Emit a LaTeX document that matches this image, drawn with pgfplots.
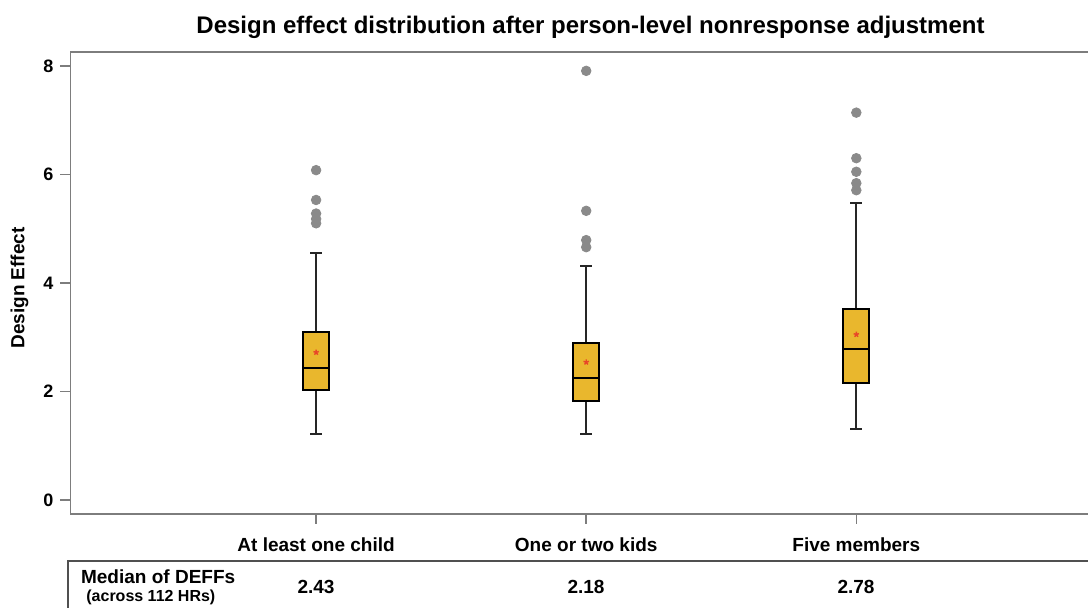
\documentclass[border=0pt]{standalone}
\usepackage{fontspec}
\setmainfont{Liberation Sans}
\usepackage{pgfplots}
\pgfplotsset{compat=1.18}
\usepgfplotslibrary{statistics}
\definecolor{boxgold}{RGB}{233,183,45}
\definecolor{frameg}{RGB}{125,125,125}
\definecolor{outg}{RGB}{138,138,138}
\definecolor{meanred}{RGB}{232,70,40}
\definecolor{tabline}{RGB}{80,80,80}
\begin{document}
\begin{tikzpicture}
\useasboundingbox (0,0) rectangle (544pt,304pt);
\begin{axis}[
  at={(35.25pt,47pt)}, anchor=south west,
  scale only axis,
  width=510pt, height=231pt,
  xmin=0.0907, xmax=3.867,
  ymin=-0.258, ymax=8.258,
  xtick pos=bottom, ytick pos=left,
  axis line style={frameg, line width=0.75pt},
  tick align=outside,
  major tick length=5pt,
  tick style={frameg, line width=0.75pt},
  xtick={1,2,3},
  xticklabels={At least one child, One or two kids, Five members},
  ytick={0,2,4,6,8},
  /pgf/number format/assume math mode=true,
  yticklabel style={font=\bfseries\fontsize{9}{10}\selectfont},
  xticklabel style={font=\bfseries\fontsize{9.5}{11}\selectfont, anchor=base, yshift=-14pt},
  clip=false,
  boxplot/draw direction=y,
  boxplot/every box/.style={draw=black, line width=0.9pt, fill=boxgold},
  boxplot/every whisker/.style={draw=black!85, line width=1pt},
  boxplot/every median/.style={draw=black, line width=1pt},
]
\addplot[boxplot prepared={draw position=1, lower whisker=1.22, lower quartile=2.03, median=2.43, upper quartile=3.10, upper whisker=4.56, box extend=0.096, whisker extend=0.045},
  mark=*, mark size=2.4pt, mark options={fill=outg, draw=outg}]
  coordinates {(0,6.08) (0,5.53) (0,5.28) (0,5.18) (0,5.10)};
\addplot[boxplot prepared={draw position=2, lower whisker=1.21, lower quartile=1.83, median=2.25, upper quartile=2.90, upper whisker=4.31, box extend=0.096, whisker extend=0.045},
  mark=*, mark size=2.4pt, mark options={fill=outg, draw=outg}]
  coordinates {(0,7.91) (0,5.33) (0,4.79) (0,4.66)};
\addplot[boxplot prepared={draw position=3, lower whisker=1.31, lower quartile=2.16, median=2.79, upper quartile=3.52, upper whisker=5.47, box extend=0.096, whisker extend=0.045},
  mark=*, mark size=2.4pt, mark options={fill=outg, draw=outg}]
  coordinates {(0,7.14) (0,6.30) (0,6.05) (0,5.84) (0,5.71)};
\addplot[only marks, mark=star, mark size=1.4pt, meanred, line width=0.7pt]
  coordinates {(1,2.72) (2,2.54) (3,3.05)};
\end{axis}
\node[anchor=base, font=\bfseries\fontsize{12}{14}\selectfont] at (295.25pt,287.4pt) {Design effect distribution after person-level nonresponse adjustment};
\node[rotate=90, font=\bfseries\fontsize{9.5}{11}\selectfont] at (9.75pt,160pt) {Design Effect};
\draw[tabline, line width=1pt] (34pt,0pt) -- (34pt,23.5pt) -- (560pt,23.5pt);
\node[anchor=base west, font=\bfseries\fontsize{9.5}{11}\selectfont, inner sep=0pt] at (40.35pt,12pt) {Median of DEFFs};
\node[anchor=base west, font=\bfseries\fontsize{8}{9}\selectfont, inner sep=0pt] at (43pt,3.2pt) {(across 112 HRs)};
\node[anchor=base, font=\bfseries\fontsize{9.5}{11}\selectfont] at (158pt,7pt) {2.43};
\node[anchor=base, font=\bfseries\fontsize{9.5}{11}\selectfont] at (293pt,7pt) {2.18};
\node[anchor=base, font=\bfseries\fontsize{9.5}{11}\selectfont] at (428pt,7pt) {2.78};
\end{tikzpicture}
\end{document}
